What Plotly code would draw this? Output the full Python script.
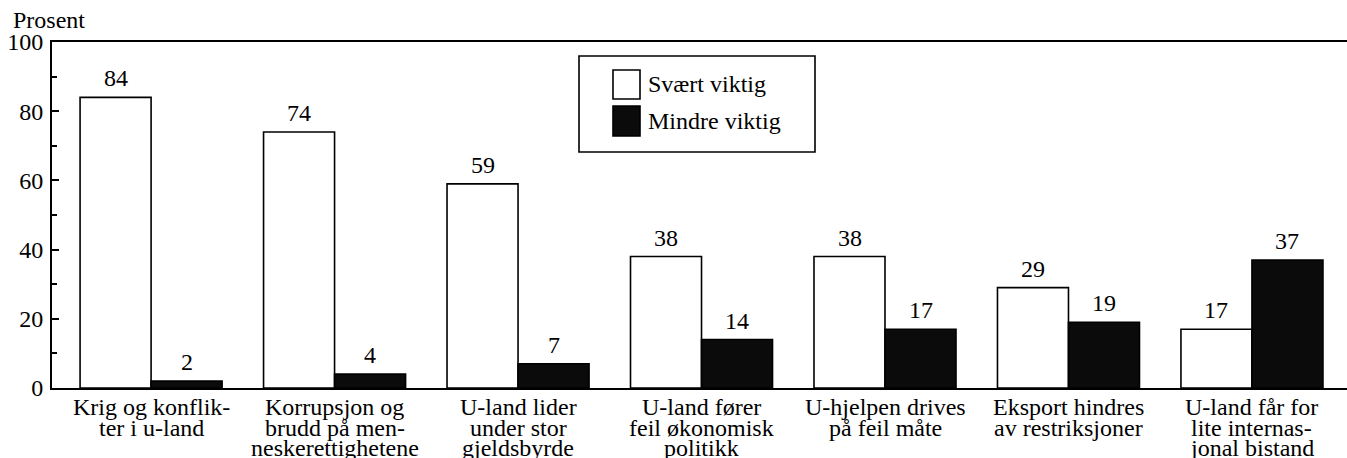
import plotly.graph_objects as go

categories = [
    "Krig og konflik-<br>ter i u-land",
    "Korrupsjon og<br>brudd på men-<br>neskerettighetene",
    "U-land lider<br>under stor<br>gjeldsbyrde",
    "U-land fører<br>feil økonomisk<br>politikk",
    "U-hjelpen drives<br>på feil måte",
    "Eksport hindres<br>av restriksjoner",
    "U-land får for<br>lite internas-<br>jonal bistand",
]
svaert_viktig = [84, 74, 59, 38, 38, 29, 17]
mindre_viktig = [2, 4, 7, 14, 17, 19, 37]
series_names = ["Svært viktig", "Mindre viktig"]
y_ticks = [0, 20, 40, 60, 80, 100]

FONT = "Liberation Serif, Times New Roman, serif"
FS = 24
L, R, T, B = 52, 0, 42, 70
W, H = 1347, 458
PW, PH = W - L - R, H - T - B


def px_to_paper(px, py):
    return (px - L) / PW, (H - B - py) / PH


fig = go.Figure()
x_idx = list(range(len(categories)))
fig.add_trace(go.Bar(x=x_idx, y=svaert_viktig, name=series_names[0],
                     marker=dict(color="white", line=dict(color="black", width=1.6)),
                     showlegend=False))
fig.add_trace(go.Bar(x=x_idx, y=mindre_viktig, name=series_names[1],
                     marker=dict(color="#0b0b0b", line=dict(color="black", width=1.6)),
                     showlegend=False))

annotations = []
half = 35.5
for i, v in enumerate(svaert_viktig):
    annotations.append(dict(x=i, y=v, xref="x", yref="y", text=str(v), showarrow=False,
                            xshift=-half, yshift=19, yanchor="middle",
                            font=dict(family=FONT, size=FS, color="black")))
for i, v in enumerate(mindre_viktig):
    annotations.append(dict(x=i, y=v, xref="x", yref="y", text=str(v), showarrow=False,
                            xshift=half, yshift=19, yanchor="middle",
                            font=dict(family=FONT, size=FS, color="black")))

# category labels with tight line spacing
for i, c in enumerate(categories):
    for j, line in enumerate(c.split("<br>")):
        annotations.append(dict(x=i, y=0, xref="x", yref="y", text=line, showarrow=False,
                                yshift=-19 - 20.5 * j, yanchor="middle", xanchor="center",
                                font=dict(family=FONT, size=FS, color="black")))

# axis title
px_, py_ = px_to_paper(11, 20)
annotations.append(dict(x=px_, y=py_, xref="paper", yref="paper", text="Prosent",
                        showarrow=False, xanchor="left", yanchor="middle",
                        font=dict(family=FONT, size=FS, color="black")))

# legend (drawn)
shapes = []
x0, y0 = px_to_paper(579, 56)
x1, y1 = px_to_paper(815, 152)
shapes.append(dict(type="rect", xref="paper", yref="paper", x0=x0, y0=y0, x1=x1, y1=y1,
                   line=dict(color="black", width=1.6), fillcolor="white", layer="above"))
sw = [(70, 99, "white"), (106, 136, "#0b0b0b")]
for k, (ta, tb, col) in enumerate(sw):
    a0, b0 = px_to_paper(613, ta)
    a1, b1 = px_to_paper(640, tb)
    shapes.append(dict(type="rect", xref="paper", yref="paper", x0=a0, y0=b0, x1=a1, y1=b1,
                       line=dict(color="black", width=1.6), fillcolor=col, layer="above"))
    tx, ty = px_to_paper(646, (ta + tb) / 2)
    annotations.append(dict(x=tx, y=ty, xref="paper", yref="paper", text=series_names[k],
                            showarrow=False, xanchor="left", yanchor="middle",
                            font=dict(family=FONT, size=FS, color="black")))

fig.update_layout(
    width=W, height=H,
    margin=dict(l=L, r=R, t=T, b=B),
    paper_bgcolor="white", plot_bgcolor="white",
    barmode="group", bargap=0.226, bargroupgap=0,
    font=dict(family=FONT, size=FS, color="black"),
    annotations=annotations, shapes=shapes,
    showlegend=False,
)
fig.update_xaxes(range=[-0.54, 6.518], showticklabels=False, ticks="",
                 showline=True, linecolor="black", linewidth=2, mirror=True,
                 showgrid=False, zeroline=False, tickmode="array", tickvals=x_idx,
                 automargin=False)
fig.update_yaxes(range=[0, 100], tickvals=y_ticks, ticks="inside", ticklen=7, tickwidth=1.6,
                 tickcolor="black", showline=True, linecolor="black", linewidth=2,
                 showgrid=False, zeroline=False, ticklabelstandoff=2, automargin=False,
                 minor=dict(dtick=10, tick0=0, ticks="inside", ticklen=5, tickwidth=1.6,
                            tickcolor="black", showgrid=False),
                 tickfont=dict(family=FONT, size=FS, color="black"))

fig.write_html("out.html", config={"displayModeBar": False},
               post_script="document.body.style.margin='0';document.body.style.overflow='hidden';")
